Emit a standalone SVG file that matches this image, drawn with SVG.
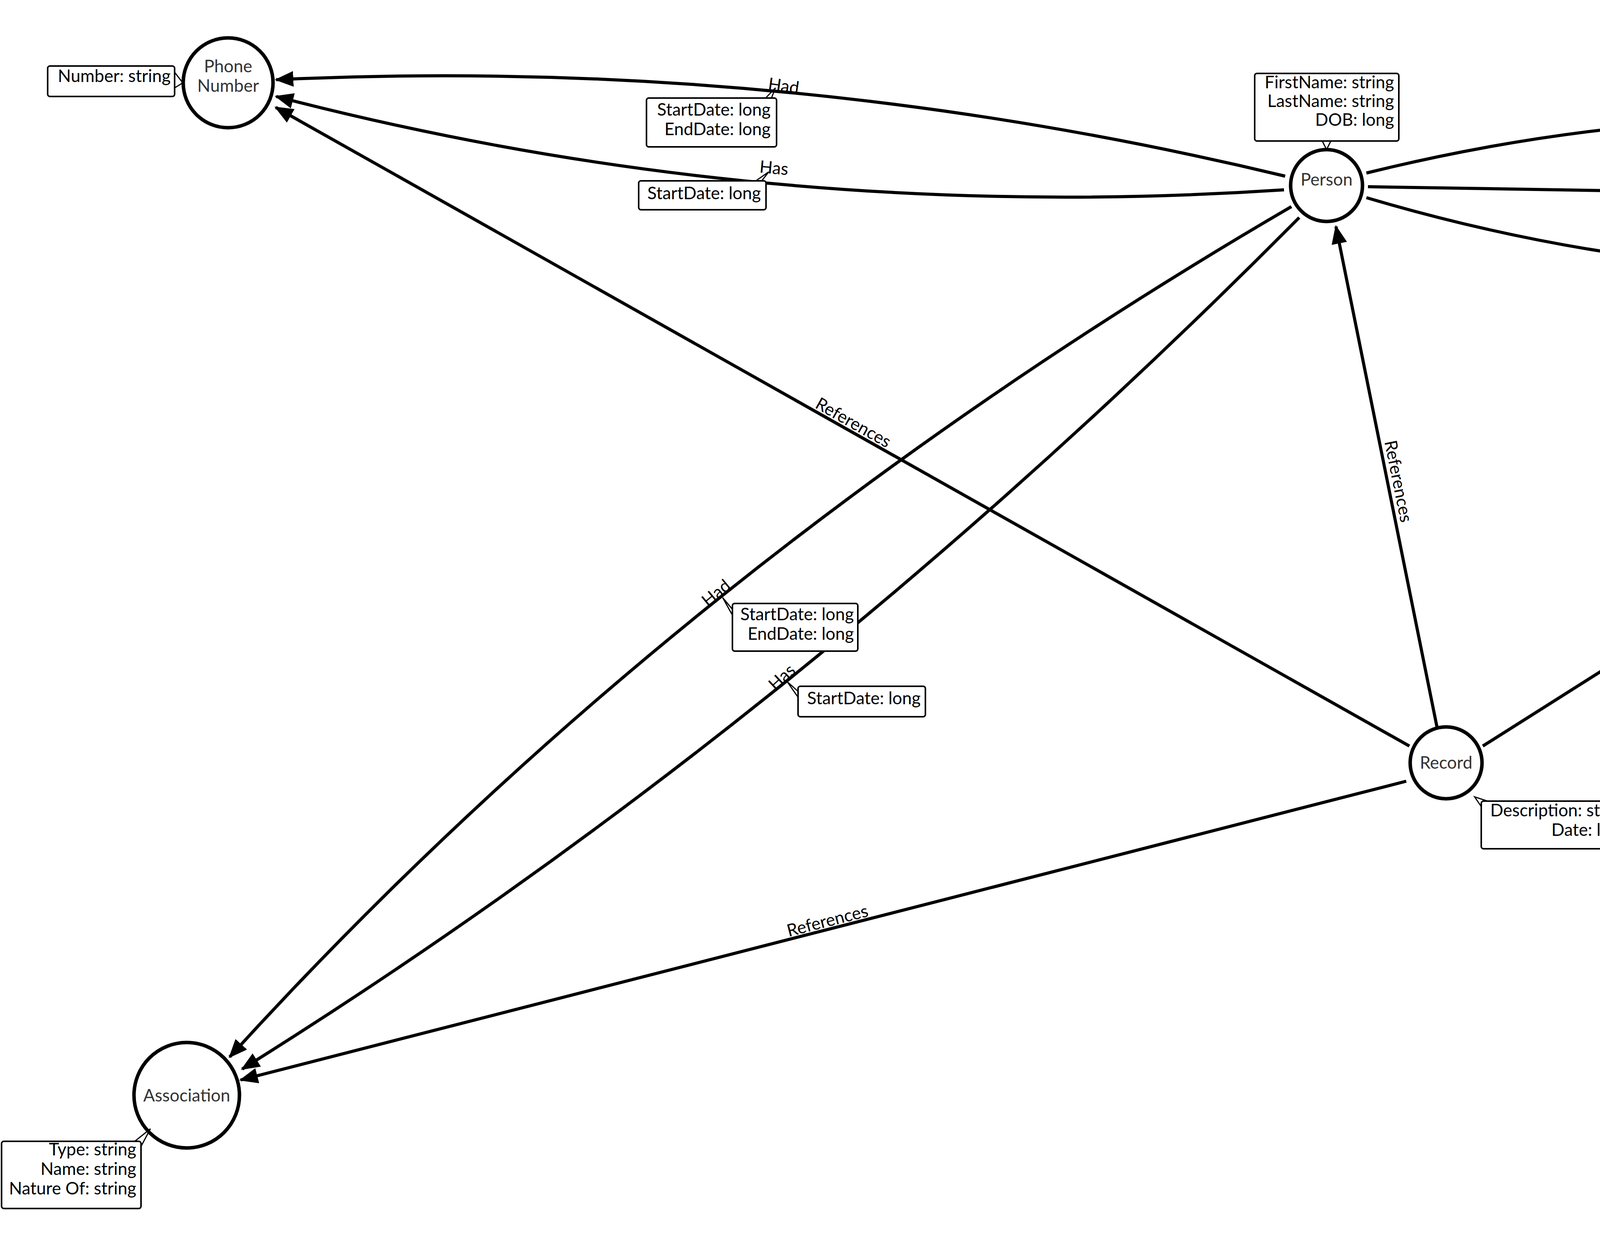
<svg xmlns="http://www.w3.org/2000/svg" width="6149" height="3190" viewBox="0 0 6149 3190">
<style>
.node{fill:#fff;stroke:#000;stroke-width:9}
.nl{font-family:Lato,"Liberation Sans",sans-serif;font-size:44px;fill:#333;text-anchor:middle}
.e{fill:none;stroke:#000;stroke-width:8;marker-end:url(#ah)}
.el{font-family:Lato,"Liberation Sans",sans-serif;font-size:44px;fill:#000;text-anchor:middle}
.box{fill:#fff;stroke:#000;stroke-width:4}
.bt{font-family:Lato,"Liberation Sans",sans-serif;font-size:44px;fill:#000;text-anchor:end}
.tail{fill:none;stroke:#000;stroke-width:3}
</style>
<defs>
<marker id="ah" markerUnits="userSpaceOnUse" markerWidth="48" markerHeight="40" refX="44" refY="20" orient="auto">
<path d="M0,0 L48,20 L0,40 Z" fill="#000"/>
</marker>
</defs>
<rect width="6149" height="3190" fill="#fff"/>
<g id="connectors">
<path class="e" d="M3290,451 Q2010,143 707,204"/>
<path class="e" d="M3287,486 Q1963,574 707,247"/>
<path class="e" d="M3498,443 Q4726,139 5922,486"/>
<path class="e" d="M3502,478 L5922,518"/>
<path class="e" d="M3498,506 Q4710,866 5922,553"/>
<path class="e" d="M3306,529 Q1739,1442 588,2706"/>
<path class="e" d="M3326,557 Q2051,1843 620,2737"/>
<path class="e" d="M3608,1910 L706,275"/>
<path class="e" d="M3679,1863 L3420,580"/>
<path class="e" d="M3796,1910 L5930,561"/>
<path class="e" d="M3600,2000 L616,2765"/>
<text class="el" transform="translate(2004,235) rotate(8)">Had</text>
<text class="el" transform="translate(1980,445) rotate(5)">Has</text>
<text class="el" transform="translate(4718,296)">Lived At</text>
<text class="el" transform="translate(4694,498) rotate(1)">Found At</text>
<text class="el" transform="translate(4710,695)">Lives At</text>
<text class="el" transform="translate(1843,1530) rotate(-40)">Had</text>
<text class="el" transform="translate(2012,1745) rotate(-43)">Has</text>
<text class="el" transform="translate(2177,1095) rotate(29.4)">References</text>
<text class="el" transform="translate(3565,1235) rotate(78.6)">References</text>
<text class="el" transform="translate(4850,1252) rotate(-32.3)">References</text>
<text class="el" transform="translate(2122,2372) rotate(-14.4)">References</text>
<!-- edge property boxes -->
<g><rect class="box" x="1655" y="251" width="333" height="125" rx="6"/><path class="tail" d="M1960,251 L1985,225 L1975,251"/><text class="bt" x="1973" y="296">StartDate: long</text><text class="bt" x="1973" y="346">EndDate: long</text></g>
<g><rect class="box" x="1635" y="463" width="326" height="74" rx="6"/><path class="tail" d="M1935,463 L1968,440 L1950,463"/><text class="bt" x="1948" y="510">StartDate: long</text></g>
<g><rect class="box" x="4557" y="314" width="325" height="121" rx="6"/><path class="tail" d="M4712,314 L4720,290 L4728,314"/><text class="bt" x="4871" y="357">StartDate: long</text><text class="bt" x="4871" y="406">EndDate: long</text></g>
<g><rect class="box" x="4585" y="514" width="223" height="74" rx="6"/><path class="tail" d="M4690,514 L4697,494 L4706,514"/><text class="bt" x="4796" y="557">Date: long</text></g>
<g><rect class="box" x="4600" y="710" width="224" height="78" rx="6"/><path class="tail" d="M4703,710 L4710,688 L4718,710"/><text class="bt" x="4812" y="753">Date: long</text></g>
<g><rect class="box" x="1875" y="1545" width="321" height="122" rx="6"/><path class="tail" d="M1875,1560 L1850,1530 L1875,1575"/><text class="bt" x="2186" y="1588">StartDate: long</text><text class="bt" x="2186" y="1638">EndDate: long</text></g>
<g><rect class="box" x="2043" y="1757" width="326" height="78" rx="6"/><path class="tail" d="M2043,1770 L2015,1745 L2043,1785"/><text class="bt" x="2357" y="1803">StartDate: long</text></g>
</g>
<g id="phone">
<circle class="node" cx="584" cy="212" r="115"/>
<text class="nl" x="584" y="185">Phone</text><text class="nl" x="584" y="235">Number</text>
<rect class="box" x="122" y="169" width="325" height="78" rx="6"/><path class="tail" d="M447,185 L468,212 L447,225"/>
<text class="bt" x="437" y="210">Number: string</text>
</g>
<g id="person">
<circle class="node" cx="3396" cy="475" r="92"/>
<text class="nl" x="3396" y="475">Person</text>
<rect class="box" x="3212" y="188" width="369" height="173" rx="6"/><path class="tail" d="M3385,361 L3396,383 L3407,361"/>
<text class="bt" x="3569" y="226">FirstName: string</text><text class="bt" x="3569" y="274">LastName: string</text><text class="bt" x="3569" y="322">DOB: long</text>
</g>
<g id="address">
<circle class="node" cx="6040" cy="510" r="100"/>
<text class="nl" x="6040" y="525">Address</text>
</g>
<g id="record">
<circle class="node" cx="3702" cy="1953" r="92"/>
<text class="nl" x="3702" y="1968">Record</text>
<rect class="box" x="3792" y="2051" width="393" height="122" rx="6"/><path class="tail" d="M3792,2065 L3775,2040 L3808,2051"/>
<text class="bt" x="4170" y="2090">Description: string</text><text class="bt" x="4170" y="2140">Date: long</text>
</g>
<g id="association">
<circle class="node" cx="478" cy="2804" r="135"/>
<text class="nl" x="478" y="2820">Association</text>
<rect class="box" x="4" y="2922" width="357" height="172" rx="6"/><path class="tail" d="M345,2922 L385,2890 L361,2935"/>
<text class="bt" x="349" y="2958">Type: string</text><text class="bt" x="349" y="3008">Name: string</text><text class="bt" x="349" y="3058">Nature Of: string</text>
</g>
</svg>
